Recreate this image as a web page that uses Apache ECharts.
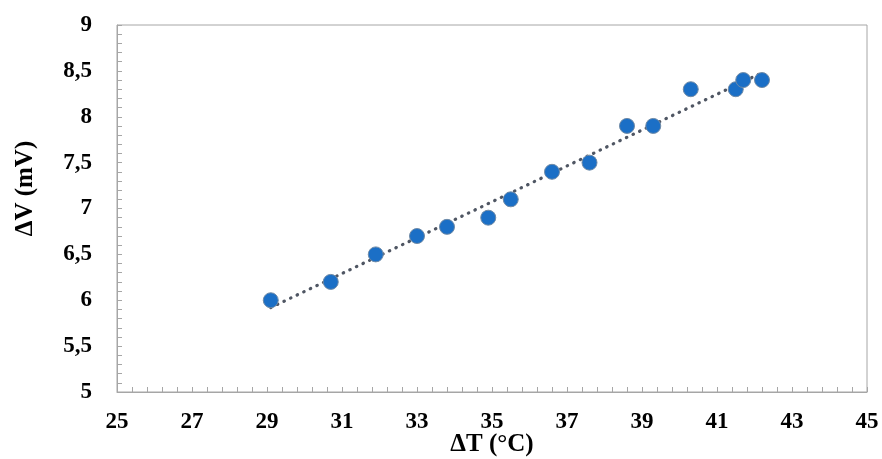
<!DOCTYPE html>
<html>
<head>
<meta charset="utf-8">
<script src="https://cdn.jsdelivr.net/npm/echarts@6/dist/echarts.min.js"></script>
<style>html,body{margin:0;padding:0;background:#fff}#c{width:882px;height:459px}</style>
</head>
<body>
<div id="c"></div>
<script>
const deltaT = [29.1, 30.7, 31.9, 33.0, 33.8, 34.9, 35.5, 36.6, 37.6, 38.6, 39.3, 40.3, 41.5, 41.7, 42.2];
const deltaV = [6.0, 6.2, 6.5, 6.7, 6.8, 6.9, 7.1, 7.4, 7.5, 7.9, 7.9, 8.3, 8.3, 8.4, 8.4];
const trendX = [29.1, 42.2];
const trendY = [5.92, 8.48];
const xTitle = 'ΔT (°C)';
const yTitle = 'ΔV (mV)';

const font = "'Liberation Serif', 'Times New Roman', serif";
const chart = echarts.init(document.getElementById('c'));
const axisCommon = {
  axisLine: {show: true, lineStyle: {color: '#a6a6a6', width: 1}},
  axisTick: {show: true, inside: true, length: 5, lineStyle: {color: '#a6a6a6'}},
  minorTick: {show: true, splitNumber: 5, length: 5, lineStyle: {color: '#a6a6a6'}},
  splitLine: {show: false},
  axisLabel: {color: '#000', fontFamily: font, fontWeight: 'bold', fontSize: 23},
  nameTextStyle: {color: '#000', fontFamily: font, fontWeight: 'bold', fontSize: 25},
  nameMoveOverlap: false
};
chart.setOption({
  animation: false,
  grid: {left: 117, right: 15, top: 25, bottom: 67, show: true, borderColor: '#a6a6a6', borderWidth: 1,
         containLabel: false, outerBoundsMode: 'none'},
  xAxis: Object.assign({}, axisCommon, {
    type: 'value', min: 25, max: 45, interval: 2,
    name: xTitle, nameLocation: 'middle', nameGap: 40,
    axisLabel: Object.assign({}, axisCommon.axisLabel, {margin: 19, showMinLabel: true, showMaxLabel: true})
  }),
  yAxis: Object.assign({}, axisCommon, {
    type: 'value', min: 5, max: 9, interval: 0.5,
    name: yTitle, nameLocation: 'middle', nameGap: 79,
    nameTextStyle: Object.assign({}, axisCommon.nameTextStyle, {padding: [0, 0, 0, 40]}),
    axisLabel: Object.assign({}, axisCommon.axisLabel, {margin: 25, formatter: v => String(v).replace('.', ',')})
  }),
  series: [
    {
      type: 'line', data: trendX.map((x, i) => [x, trendY[i]]), symbol: 'none',
      lineStyle: {color: '#4f5663', width: 3.2, type: [0.5, 6.8], cap: 'round'}, z: 2
    },
    {
      type: 'scatter', data: deltaT.map((x, i) => [x, deltaV[i]]), symbol: 'circle', symbolSize: 15,
      itemStyle: {color: '#1b6fc6', opacity: 1, borderColor: '#6f8aa6', borderWidth: 1}, z: 3
    }
  ]
});
</script>
</body>
</html>
